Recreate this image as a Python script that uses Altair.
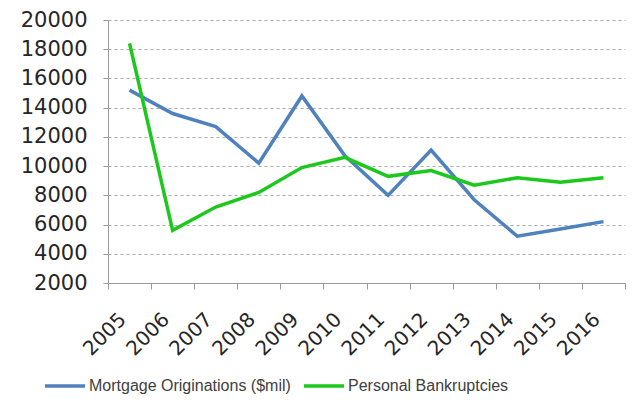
import altair as alt
import pandas as pd

years = [str(y) for y in range(2005, 2017)]
mortgage = [15200, 13600, 12700, 10200, 14800, 10700, 8000, 11100, 7700, 5200, 5700, 6200]
bankruptcies = [18400, 5600, 7200, 8200, 9900, 10600, 9300, 9700, 8700, 9200, 8900, 9200]
series_names = ["Mortgage Originations ($mil)", "Personal Bankruptcies"]
colors = ["#4F81BD", "#1DC81D"]

rows = []
for i, y in enumerate(years):
    rows.append({"Year": y, "Series": series_names[0], "Value": mortgage[i]})
    rows.append({"Year": y, "Series": series_names[1], "Value": bankruptcies[i]})
df = pd.DataFrame(rows)

font = "DejaVu Sans"

chart = alt.Chart(df).mark_line(strokeWidth=3.5).encode(
    x=alt.X("Year:O", title=None,
            scale=alt.Scale(type="band", paddingInner=0, paddingOuter=0),
            axis=alt.Axis(labelAngle=-45, labelFontSize=20, labelFont=font,
                          labelColor="#262626", domainColor="#999999",
                          tickColor="#999999", tickBand="extent", tickSize=6,
                          labelPadding=20, labelOffset=-14, grid=False)),
    y=alt.Y("Value:Q", title=None,
            scale=alt.Scale(domain=[2000, 20000], nice=False, zero=False),
            axis=alt.Axis(values=list(range(2000, 20001, 2000)), format="d",
                          labelFontSize=21,
                          labelFont=font, labelColor="#262626",
                          domainColor="#999999", tickColor="#999999", tickSize=5,
                          labelPadding=16, gridColor="#aaaaaa", gridDash=[3, 3],
                          gridWidth=1.2)),
    color=alt.Color("Series:N", title=None,
                    scale=alt.Scale(domain=series_names, range=colors),
                    legend=alt.Legend(orient="none", legendX=-65, legendY=344,
                                      direction="horizontal", symbolType="stroke",
                                      symbolStrokeWidth=3.5, symbolSize=1600,
                                      labelFontSize=16, labelFont="Liberation Sans",
                                      labelColor="#404040", columnPadding=6,
                                      labelOffset=2, labelLimit=0)),
).properties(
    width=517, height=263,
    padding={"left": 100, "top": 12, "right": 1, "bottom": 112},
    autosize=alt.AutoSizeParams(type="none"),
).configure_view(stroke=None)

chart.save("out.html", embed_options={"renderer": "svg", "actions": False})
